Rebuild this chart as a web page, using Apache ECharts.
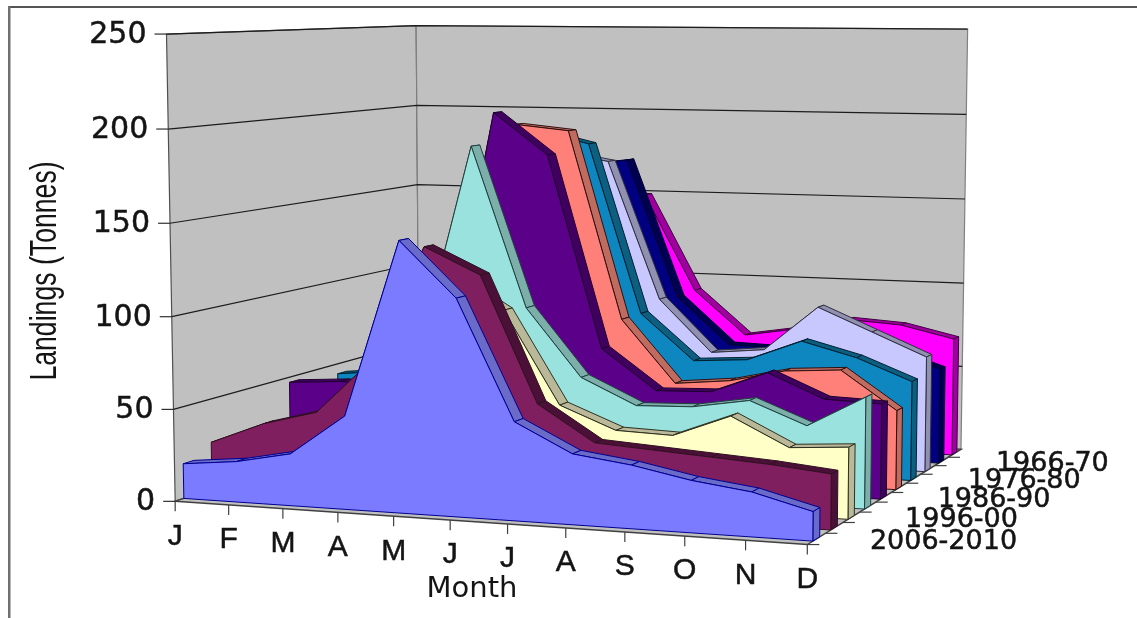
<!DOCTYPE html>
<html><head><meta charset="utf-8">
<style>html,body{margin:0;padding:0;background:#fff}#c{width:1137px;height:618px}</style>
<script src="https://cdn.jsdelivr.net/npm/echarts@6/dist/echarts.min.js"></script>
</head><body><div id="c"></div>
<script>
const months = ['J','F','M','A','M','J','J','A','S','O','N','D'];
const yTicks = [0,50,100,150,200,250];
const periods = ['2006-2010','2001-05','1996-00','1991-95','1986-90','1981-85','1976-80','1971-75','1966-70','1961-65'];
const depthLabels = ['2006-2010','','1996-00','','1986-90','','1976-80','','1966-70',''];
const v2006 = [19,22,28,50,144,115,52,37,33,27,23,15];
const v2001 = [26,38,46,75,138,124,57,38,36,34,32,29];
const v1996 = [22,28,38,60,120,102,52,40,39,51,36,38];
const v1991 = [25,33,50,73,188,100,63,49,50,55,43,60];
const v1986 = [47,49,48,55,205,182,75,53,54,66,53,52];
const v1981 = [35,40,45,60,197,194,88,53,56,63,65,44];
const v1976 = [44,47,45,60,192,185,88,62,64,76,68,56];
const v1971 = [35,40,45,55,178,173,93,63,66,92,79,66];
const v1966 = [35,40,45,55,168,172,91,64,63,80,65,55];
const v1961 = [35,40,45,55,150,149,92,66,71,78,76,69];
const allValues = [v2006,v2001,v1996,v1991,v1986,v1981,v1976,v1971,v1966,v1961];
const faceColors = ['#7B7BFF','#7F1F5F','#FFFFC8','#99E2DD','#5B0088','#FF8078','#0E86C0','#C8C8FF','#000080','#FF00FF'];
const topColors  = ['#6A6AC8','#4A1038','#B9B99A','#7DAFAA','#3F0060','#C06B60','#0C5F80','#9090B0','#000050','#A000A0'];
const edgeColors = ['#000090','#301020','#303020','#204040','#200030','#301010','#002030','#303040','#000030','#400040'];

// projection of the chart box (month fraction, value fraction, depth fraction) onto the page
const boxCorners = [
 [0,0,0,176,500],[0,1,0,165,35],[0,0,1,418,420],[0,1,1,418,25],
 [1,0,1,961,449],[1,1,1,967,29],[1,0,0,808,545]
];
function solveCamera(c){
  const A=[],b=[];
  c.forEach(([x,y,z,u,v])=>{
    A.push([x,y,z,1,0,0,0,0,-u*x,-u*y,-u*z]);b.push(u);
    A.push([0,0,0,0,x,y,z,1,-v*x,-v*y,-v*z]);b.push(v);
  });
  const n=11,N=[];
  for(let i=0;i<n;i++){N.push(new Array(n+1).fill(0));
    for(let j=0;j<n;j++)for(let k=0;k<A.length;k++)N[i][j]+=A[k][i]*A[k][j];
    for(let k=0;k<A.length;k++)N[i][n]+=A[k][i]*b[k];}
  for(let i=0;i<n;i++){let p=i;for(let r=i+1;r<n;r++)if(Math.abs(N[r][i])>Math.abs(N[p][i]))p=r;
    [N[i],N[p]]=[N[p],N[i]];
    for(let r=0;r<n;r++)if(r!==i){const f=N[r][i]/N[i][i];for(let j=i;j<=n;j++)N[r][j]-=f*N[i][j];}}
  return N.map((r,i)=>r[n]/r[i]);
}
const cam=solveCamera(boxCorners);
function proj(x,y,z){
  const w=cam[8]*x+cam[9]*y+cam[10]*z+1;
  return [(cam[0]*x+cam[1]*y+cam[2]*z+cam[3])/w,(cam[4]*x+cam[5]*y+cam[6]*z+cam[7])/w];
}
function fractions(api,params,m,val){
  const p=api.coord([m,val]),g=params.coordSys;
  return [(p[0]-g.x)/g.width,(g.y+g.height-p[1])/g.height];
}
const poly=(pts,fill,stroke,lw)=>({type:'polygon',silent:true,shape:{points:pts},style:{fill,stroke,lineWidth:lw}});
const line=(pts,stroke,lw)=>({type:'polyline',silent:true,shape:{points:pts},style:{fill:'none',stroke,lineWidth:lw}});
const text=(t,x,y,font,size,align)=>({type:'text',silent:true,style:{text:t,x,y,fontFamily:font,fontSize:size,fill:'#141414',stroke:'#141414',lineWidth:0.5,align:align||'center',verticalAlign:'middle'}});

function renderBox(params,api){
  const t=[];
  const tick=api.value(1), vf=fractions(api,params,0,tick)[1];
  if(params.dataIndex===0){
    t.push(poly([proj(0,0,0),proj(0,1,0),proj(0,1,1),proj(0,0,1)],'#C0C0C0','#505050',1.2));
    t.push(poly([proj(0,0,1),proj(0,1,1),proj(1,1,1),proj(1,0,1)],'#C0C0C0','#808080',1.2));
    t.push(poly([proj(0,0,0),proj(1,0,0),proj(1,0,1),proj(0,0,1)],'#C0C0C0','#404040',1.5));
    months.forEach((m,i)=>{
      const a=proj(i/11,0,0);
      t.push(line([a,[a[0],a[1]+10]],'#404040',1.2));
    });
    depthLabels.forEach((l,i)=>{
      const a=proj(1,0,i/10);
      t.push(line([a,[a[0]+12,a[1]]],'#404040',1.2));
    });
  }
  const s=proj(0,vf,0);
  t.push(line([[s[0]-12,s[1]],s],'#303030',1.2));
  if(tick>0) t.push(line([s,proj(0,vf,1),proj(1,vf,1)],'#1c1c1c',1.2));
  t.push(text(String(tick),s[0]-20,s[1]+1,'DejaVu Sans',30,'right'));
  return {type:'group',children:t};
}
function renderArea(idx){
  return function(params,api){
    if(params.dataIndex!==0) return null;
    const z0=(idx+0.3)/10, z1=(idx+0.68)/10, n=months.length;
    const pts=[];
    for(let i=0;i<n;i++){pts.push(fractions(api,params,i,api.value(1,i)));}
    const ch=[];
    for(let i=0;i<n-1;i++){
      const a=pts[i],b=pts[i+1];
      ch.push(poly([proj(a[0],a[1],z0),proj(a[0],a[1],z1),proj(b[0],b[1],z1),proj(b[0],b[1],z0)],topColors[idx],edgeColors[idx],1));
    }
    const e=pts[n-1];
    ch.push(poly([proj(1,0,z0),proj(1,e[1],z0),proj(1,e[1],z1),proj(1,0,z1)],topColors[idx],edgeColors[idx],1));
    const face=[proj(0,0,z0)];
    pts.forEach(p=>face.push(proj(p[0],p[1],z0)));
    face.push(proj(1,0,z0));
    ch.push(poly(face,faceColors[idx],edgeColors[idx],1));
    return {type:'group',children:ch};
  };
}
function renderMonth(params,api){
  const i=api.value(0), a=proj(i/11,0,0);
  return text(months[i],a[0],a[1]+35,'Liberation Sans',30);
}
function renderDepth(params,api){
  const i=api.value(0); if(!depthLabels[i]) return null;
  const a=proj(1,0,(i+0.25)/10);
  return text(depthLabels[i],a[0]+58,a[1],'DejaVu Sans',27,'left');
}
const series=[{type:'custom',name:'box',renderItem:renderBox,clip:false,z:1,silent:true,
  data:yTicks.map(v=>[0,v]),encode:{x:0,y:1}}];
for(let i=allValues.length-1;i>=0;i--){
  series.push({type:'custom',name:periods[i],renderItem:renderArea(i),clip:false,z:20-i,silent:true,
    data:allValues[i].map((v,m)=>[m,v]),encode:{x:0,y:1}});
}
series.push({type:'custom',name:'months',renderItem:renderMonth,clip:false,z:30,silent:true,data:months.map((m,i)=>[i,0]),encode:{x:0,y:1}});
series.push({type:'custom',name:'depth',renderItem:renderDepth,clip:false,z:30,silent:true,data:depthLabels.map((m,i)=>[i,0]),encode:{x:0,y:1}});

const chart=echarts.init(document.getElementById('c'),null,{renderer:'canvas'});
chart.setOption({
  animation:false,backgroundColor:'#fff',
  grid:{left:163,top:35,width:618,bottom:118,containLabel:false},
  xAxis:{type:'category',data:months,boundaryGap:false,axisLine:{show:false},axisTick:{show:false},axisLabel:{show:false},splitLine:{show:false},
    name:'Month',nameLocation:'middle',nameGap:75,nameTextStyle:{fontFamily:'DejaVu Sans',fontSize:29,color:'#141414',fontWeight:'normal'}},
  yAxis:{type:'value',min:0,max:250,interval:50,axisLine:{show:false},axisTick:{show:false},splitLine:{show:false},axisLabel:{show:false}},
  graphic:[
    {type:'rect',shape:{x:8,y:6,width:1129,height:2},style:{fill:'#555'},silent:true},
    {type:'rect',shape:{x:8,y:6,width:2.5,height:612},style:{fill:'#707070'},silent:true},
    {type:'text',x:46,y:271,rotation:Math.PI/2,scaleX:0.72,scaleY:1,silent:true,
     style:{text:'Landings (Tonnes)',fontFamily:'Liberation Sans',fontSize:37,fill:'#141414',align:'center',verticalAlign:'middle'}}
  ],
  series
});
</script></body></html>
